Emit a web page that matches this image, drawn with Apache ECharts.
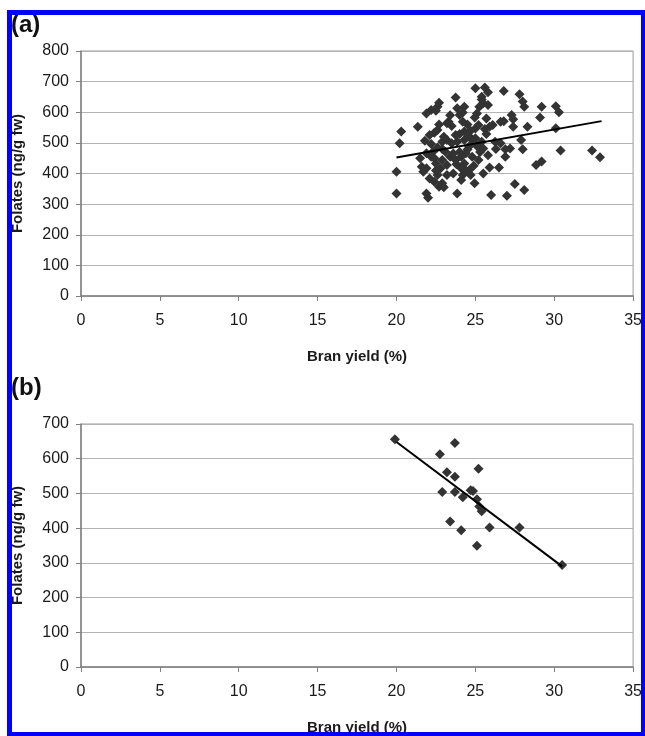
<!DOCTYPE html>
<html>
<head>
<meta charset="utf-8">
<script src="https://cdn.jsdelivr.net/npm/echarts@6/dist/echarts.min.js"></script>
<style>
html,body{margin:0;padding:0;background:#fff;}
#c{width:645px;height:736px;}
</style>
</head>
<body>
<div id="c"></div>
<script>
// Panel (a): bran yield (%) vs folates (ng/g fw)
const aX = [25.0,25.6,25.8,26.8,23.75,27.8,28.0,28.1,22.7,25.4,25.5,25.25,25.8,29.2,30.1,30.3,21.9,22.2,22.5,23.85,
  24.2,24.0,24.3,25.1,24.96,27.3,27.4,26.6,26.8,29.1,25.7,23.3,23.5,24.2,21.35,20.3,22.6,22.4,22.1,25.0,
  25.7,25.9,26.1,27.4,28.3,30.1,24.3,24.0,24.6,20.2,21.8,22.2,22.6,21.9,23.5,23.85,24.3,24.6,25.1,25.4,
  26.25,26.6,26.9,27.2,27.9,28.0,23.1,23.4,24.1,24.4,24.8,25.2,25.8,26.9,22.9,22.4,21.6,21.9,22.5,22.8,
  23.75,24.3,24.1,24.9,25.9,26.5,28.85,29.2,30.4,32.4,32.9,20.0,22.1,22.6,22.9,22.7,23.0,24.2,24.4,24.1,
  24.95,27.5,28.1,20.0,21.9,22.0,23.85,26.0,27.0,23.2,23.75,24.8,22.9,22.2,23.2,23.6,22.4,25.2,25.5,23.2,
  25.4,22.6,24.6,21.7,22.3,22.9,23.6,24.5,25.3,23.0,24.7,22.7,23.4,24.5,25.6,21.5,23.2,24.7,25.5,22.5,
  26.3,24.0,23.8,25.0];
const aY = [678,681,665,669,648,659,635,618,631,642,629,618,624,618,620,600,596,607,605,613,
  599,591,618,596,583,591,577,569,571,583,580,569,555,569,553,537,542,533,526,547,
  529,553,558,553,553,548,537,529,522,499,507,496,485,466,499,504,509,488,490,504,
  504,499,479,482,509,479,471,455,455,466,455,444,460,455,444,450,422,417,433,417,
  444,433,417,425,420,420,428,439,475,475,453,406,384,395,368,357,355,395,411,379,
  368,366,346,335,335,321,335,330,327,564,526,509,504,455,428,400,373,558,482,509,
  651,618,411,406,470,480,465,478,470,520,540,560,590,560,545,450,395,395,400,410,
  480,470,430,515];
const trendAX = [20, 33];
const trendAY = [452, 571];

// Panel (b)
const bX = [19.9,23.7,22.75,25.2,23.2,23.7,22.9,23.7,24.7,24.85,24.2,25.1,25.25,25.4,23.4,24.1,25.9,27.8,25.1,30.5];
const bY = [656,645,613,571,561,548,504,504,509,507,489,483,462,449,419,394,402,402,349,294];
const trendBX = [20, 30.5];
const trendBY = [648, 290];

const xTicks = {min: 0, max: 35, interval: 5};
const yMaxA = 800, yMaxB = 700, yInterval = 100;

const FONT = '"Liberation Sans", Arial, sans-serif';
const zip = (xs, ys) => xs.map((x, i) => [x, ys[i]]);

function xAxisCfg(idx) {
  return {
    gridIndex: idx, type: 'value', min: xTicks.min, max: xTicks.max, interval: xTicks.interval,
    name: 'Bran yield (%)', nameLocation: 'middle', nameGap: 53,
    nameTextStyle: {fontFamily: FONT, fontSize: 15, fontWeight: 'bold', color: '#1a1a1a'},
    axisLine: {show: true, lineStyle: {color: '#808080', width: 1.5}},
    axisTick: {show: true, length: 5, lineStyle: {color: '#808080'}},
    axisLabel: {fontFamily: FONT, fontSize: 16, color: '#1a1a1a', margin: 17},
    splitLine: {show: false}
  };
}
function yAxisCfg(idx, max) {
  return {
    gridIndex: idx, type: 'value', min: 0, max: max, interval: yInterval,
    name: 'Folates (ng/g fw)', nameLocation: 'middle', nameGap: 56,
    nameTextStyle: {fontFamily: FONT, fontSize: 15, fontWeight: 'bold', color: '#1a1a1a'},
    axisLine: {show: true, lineStyle: {color: '#808080', width: 1.5}},
    axisTick: {show: true, length: 5, lineStyle: {color: '#808080'}},
    axisLabel: {fontFamily: FONT, fontSize: 16, color: '#1a1a1a', margin: 12},
    splitLine: {show: true, lineStyle: {color: '#b4b4b4', width: 1.2}}
  };
}

const chart = echarts.init(document.getElementById('c'), null, {renderer: 'canvas'});
chart.setOption({
  animation: false,
  backgroundColor: '#fff',
  grid: [
    {left: 81, top: 51, width: 561, height: 245, show: true, borderColor: '#9a9a9a', borderWidth: 1},
    {left: 81, top: 424, width: 561, height: 245, show: true, borderColor: '#9a9a9a', borderWidth: 1}
  ],
  xAxis: [xAxisCfg(0), xAxisCfg(1)],
  yAxis: [yAxisCfg(0, yMaxA), yAxisCfg(1, yMaxB)],
  series: [
    {type: 'scatter', xAxisIndex: 0, yAxisIndex: 0, symbol: 'diamond', symbolSize: 10,
      itemStyle: {color: '#333333', opacity: 1}, data: zip(aX, aY)},
    {type: 'line', xAxisIndex: 0, yAxisIndex: 0, symbol: 'none', z: 5,
      lineStyle: {color: '#000', width: 2}, data: zip(trendAX, trendAY)},
    {type: 'scatter', xAxisIndex: 1, yAxisIndex: 1, symbol: 'diamond', symbolSize: 10,
      itemStyle: {color: '#333333', opacity: 1}, data: zip(bX, bY)},
    {type: 'line', xAxisIndex: 1, yAxisIndex: 1, symbol: 'none', z: 5,
      lineStyle: {color: '#000', width: 2}, data: zip(trendBX, trendBY)}
  ],
  graphic: [
    {type: 'text', left: 11, top: 13, z: 50,
      style: {text: '(a)', font: 'bold 24px ' + FONT, fill: '#111'}},
    {type: 'text', left: 11, top: 376, z: 50,
      style: {text: '(b)', font: 'bold 24px ' + FONT, fill: '#111'}},
    {type: 'rect', z: 100, silent: true,
      shape: {x: 9.5, y: 12.5, width: 634, height: 722},
      style: {fill: 'none', stroke: '#0000ff', lineWidth: 5}}
  ]
});
</script>
</body>
</html>
